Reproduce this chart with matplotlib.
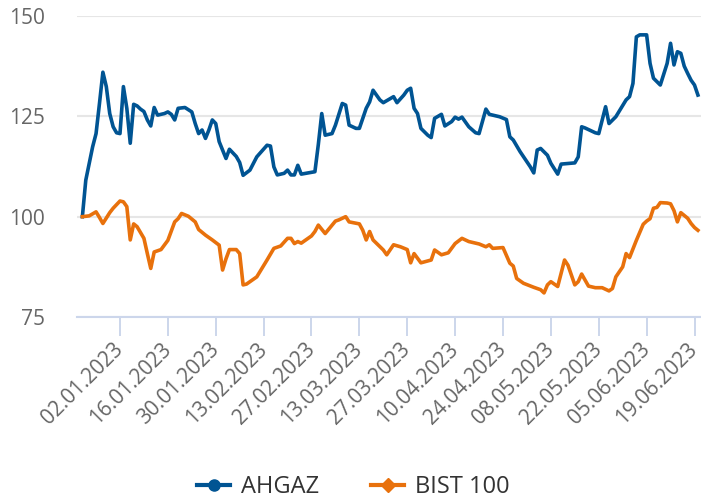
import numpy as np
import matplotlib
matplotlib.use("Agg")
import matplotlib.pyplot as plt
import matplotlib.dates as mdates
from matplotlib.lines import Line2D

plt.rcParams["font.family"] = ["Open Sans", "DejaVu Sans"]

# values (both series rebased to 100)
ahgaz_dates = [
    "2022-12-22", "2022-12-23", "2022-12-24", "2022-12-25", "2022-12-26", "2022-12-27",
    "2022-12-28", "2022-12-29", "2022-12-30", "2022-12-31", "2023-01-01", "2023-01-02",
    "2023-01-03", "2023-01-04", "2023-01-05", "2023-01-06", "2023-01-07", "2023-01-08",
    "2023-01-09", "2023-01-10", "2023-01-11", "2023-01-12", "2023-01-13", "2023-01-15",
    "2023-01-16", "2023-01-17", "2023-01-18", "2023-01-19", "2023-01-21", "2023-01-23",
    "2023-01-24", "2023-01-25", "2023-01-26", "2023-01-27", "2023-01-28", "2023-01-29",
    "2023-01-30", "2023-01-31", "2023-02-02", "2023-02-03", "2023-02-05", "2023-02-06",
    "2023-02-07", "2023-02-09", "2023-02-11", "2023-02-14", "2023-02-15", "2023-02-16",
    "2023-02-17", "2023-02-19", "2023-02-20", "2023-02-21", "2023-02-22", "2023-02-23",
    "2023-02-24", "2023-02-26", "2023-02-28", "2023-03-01", "2023-03-02", "2023-03-03",
    "2023-03-05", "2023-03-06", "2023-03-08", "2023-03-09", "2023-03-10", "2023-03-12",
    "2023-03-13", "2023-03-15", "2023-03-16", "2023-03-17", "2023-03-19", "2023-03-20",
    "2023-03-23", "2023-03-24", "2023-03-26", "2023-03-27", "2023-03-28", "2023-03-29",
    "2023-03-30", "2023-03-31", "2023-04-02", "2023-04-03", "2023-04-04", "2023-04-06",
    "2023-04-07", "2023-04-09", "2023-04-10", "2023-04-11", "2023-04-12", "2023-04-14",
    "2023-04-16", "2023-04-17", "2023-04-19", "2023-04-20", "2023-04-21", "2023-04-23",
    "2023-04-25", "2023-04-26", "2023-04-27", "2023-04-29", "2023-05-02", "2023-05-03",
    "2023-05-04", "2023-05-05", "2023-05-07", "2023-05-08", "2023-05-10", "2023-05-11",
    "2023-05-15", "2023-05-16", "2023-05-17", "2023-05-18", "2023-05-21", "2023-05-22",
    "2023-05-24", "2023-05-25", "2023-05-27", "2023-05-30", "2023-05-31", "2023-06-01",
    "2023-06-02", "2023-06-03", "2023-06-05", "2023-06-06", "2023-06-07", "2023-06-09",
    "2023-06-11", "2023-06-12", "2023-06-13", "2023-06-14", "2023-06-15", "2023-06-16",
    "2023-06-17", "2023-06-18", "2023-06-19", "2023-06-20",
]
ahgaz_values = [
    100.0, 109.1, 113.3, 117.4, 120.7, 128.2,
    136.0, 132.4, 125.7, 122.4, 120.9, 120.7,
    132.4, 127.0, 118.3, 128.0, 127.6, 126.8,
    126.2, 124.1, 122.6, 127.2, 125.3, 125.7,
    126.1, 125.5, 124.1, 127.0, 127.2, 126.1,
    123.2, 120.7, 121.6, 119.5, 121.6, 124.1,
    123.2, 118.7, 114.5, 116.8, 115.0, 113.5,
    110.3, 111.6, 114.9, 117.8, 117.6, 112.4,
    110.4, 110.8, 111.6, 110.4, 110.4, 112.8,
    110.6, 110.9, 111.2, 118.0, 125.7, 120.3,
    120.7, 122.8, 128.2, 127.8, 122.8, 122.0,
    122.0, 127.0, 128.6, 131.5, 129.1, 128.4,
    129.9, 128.4, 130.3, 131.5, 132.0, 127.0,
    125.7, 122.0, 120.3, 119.7, 124.5, 125.5,
    122.6, 123.7, 124.8, 124.3, 124.8, 122.4,
    120.9, 120.7, 126.8, 125.5, 125.3, 124.9,
    124.2, 119.9, 119.1, 116.2, 112.4, 110.9,
    116.6, 117.0, 115.3, 113.3, 110.6, 113.1,
    113.4, 114.9, 122.4, 122.1, 120.9, 120.7,
    127.4, 123.2, 124.9, 129.1, 129.9, 133.2,
    144.8, 145.3, 145.3, 138.2, 134.5, 132.8,
    138.2, 143.2, 137.8, 141.1, 140.7, 137.5,
    135.7, 134.0, 132.8, 130.3,
]

bist_dates = [
    "2022-12-22", "2022-12-24", "2022-12-26", "2022-12-27", "2022-12-28", "2022-12-30",
    "2022-12-31", "2023-01-02", "2023-01-03", "2023-01-04", "2023-01-05", "2023-01-06",
    "2023-01-07", "2023-01-09", "2023-01-10", "2023-01-11", "2023-01-12", "2023-01-14",
    "2023-01-16", "2023-01-18", "2023-01-19", "2023-01-20", "2023-01-22", "2023-01-24",
    "2023-01-25", "2023-01-27", "2023-01-29", "2023-01-31", "2023-02-01", "2023-02-02",
    "2023-02-03", "2023-02-05", "2023-02-06", "2023-02-07", "2023-02-08", "2023-02-11",
    "2023-02-14", "2023-02-16", "2023-02-18", "2023-02-20", "2023-02-21", "2023-02-22",
    "2023-02-23", "2023-02-24", "2023-02-27", "2023-02-28", "2023-03-01", "2023-03-03",
    "2023-03-06", "2023-03-07", "2023-03-09", "2023-03-10", "2023-03-13", "2023-03-14",
    "2023-03-15", "2023-03-16", "2023-03-17", "2023-03-20", "2023-03-21", "2023-03-23",
    "2023-03-25", "2023-03-27", "2023-03-28", "2023-03-29", "2023-03-31", "2023-04-03",
    "2023-04-04", "2023-04-06", "2023-04-08", "2023-04-10", "2023-04-12", "2023-04-14",
    "2023-04-17", "2023-04-19", "2023-04-20", "2023-04-21", "2023-04-24", "2023-04-26",
    "2023-04-27", "2023-04-28", "2023-04-30", "2023-05-03", "2023-05-05", "2023-05-06",
    "2023-05-07", "2023-05-08", "2023-05-10", "2023-05-12", "2023-05-13", "2023-05-15",
    "2023-05-16", "2023-05-17", "2023-05-19", "2023-05-21", "2023-05-23", "2023-05-25",
    "2023-05-26", "2023-05-27", "2023-05-29", "2023-05-30", "2023-05-31", "2023-06-02",
    "2023-06-04", "2023-06-05", "2023-06-06", "2023-06-07", "2023-06-08", "2023-06-09",
    "2023-06-11", "2023-06-12", "2023-06-13", "2023-06-14", "2023-06-15", "2023-06-17",
    "2023-06-18", "2023-06-19", "2023-06-20",
]
bist_values = [
    100.0, 100.2, 101.2, 99.8, 98.3, 101.0,
    102.1, 103.9, 103.7, 102.5, 94.2, 98.2,
    97.5, 94.6, 90.8, 87.1, 91.2, 91.8,
    94.1, 98.7, 99.5, 100.8, 100.1, 98.7,
    96.8, 95.4, 94.2, 92.9, 86.7, 89.5,
    91.8, 91.8, 90.8, 83.0, 83.2, 85.0,
    89.2, 92.1, 92.7, 94.6, 94.6, 93.3,
    93.8, 93.4, 95.2, 96.3, 97.9, 95.8,
    98.9, 99.2, 100.0, 98.7, 98.2, 96.6,
    94.2, 96.3, 94.2, 91.7, 90.5, 93.0,
    92.5, 91.8, 88.5, 90.8, 88.5, 89.2,
    91.7, 90.5, 91.0, 93.3, 94.6, 93.8,
    93.2, 92.5, 93.0, 92.1, 92.3, 88.4,
    87.7, 84.6, 83.4, 82.4, 81.8, 81.0,
    83.0, 83.8, 82.6, 89.2, 87.9, 83.0,
    83.8, 85.7, 82.7, 82.3, 82.3, 81.5,
    82.1, 85.0, 87.5, 90.8, 89.8, 94.1,
    98.1, 98.9, 99.5, 102.1, 102.3, 103.5,
    103.4, 103.2, 101.5, 98.7, 101.0, 99.6,
    98.3, 97.3, 96.6,
]

series_names = ["AHGAZ", "BIST 100"]
series_colors = ["#005493", "#e8710c"]
y_ticks = [75, 100, 125, 150]

fig = plt.figure(figsize=(7.01, 4.99), dpi=100)
ax = fig.add_axes([77 / 701, 182 / 499, 624 / 701, 301 / 499])

ax.plot(np.array(ahgaz_dates, dtype="datetime64[D]"), ahgaz_values,
        color=series_colors[0], lw=2.6, solid_joinstyle="round", zorder=3)
ax.plot(np.array(bist_dates, dtype="datetime64[D]"), bist_values,
        color=series_colors[1], lw=2.6, solid_joinstyle="round", zorder=3)

start = mdates.date2num(np.datetime64("2023-01-02"))
ax.set_xlim(start - 12.57, start + 169.9)
ax.set_ylim(75, 150)

ax.set_yticks(y_ticks)
ax.yaxis.grid(True, color="#e6e6e6", lw=1.5)
ax.set_axisbelow(True)

ticks = np.arange(np.datetime64("2023-01-02"), np.datetime64("2023-06-20"), 14)
ax.set_xticks(mdates.date2num(ticks))
ax.xaxis.set_major_formatter(mdates.DateFormatter("%d.%m.%Y"))

for side in ["left", "right", "top"]:
    ax.spines[side].set_visible(False)
ax.spines["bottom"].set_color("#ccd6eb")
ax.spines["bottom"].set_linewidth(1.5)

ax.tick_params(axis="y", length=0, pad=23, labelsize=15, labelcolor="#666666")
ax.tick_params(axis="x", length=13.7, width=1.4, color="#ccd6eb", pad=7,
               labelsize=15, labelcolor="#666666")
for lab in ax.get_xticklabels():
    lab.set_rotation(45)
    lab.set_ha("right")
    lab.set_va("center")
    lab.set_rotation_mode("anchor")

handles = [
    Line2D([], [], color=series_colors[0], lw=3, marker="o", markersize=8),
    Line2D([], [], color=series_colors[1], lw=3, marker="D", markersize=7),
]
fig.legend(handles, series_names, loc="center", bbox_to_anchor=(0.504, 0.024),
           ncol=2, frameon=False, fontsize=17, handlelength=1.4,
           handletextpad=0.45, columnspacing=2.2, labelcolor="#333333")

fig.savefig("out.png", dpi=100)
